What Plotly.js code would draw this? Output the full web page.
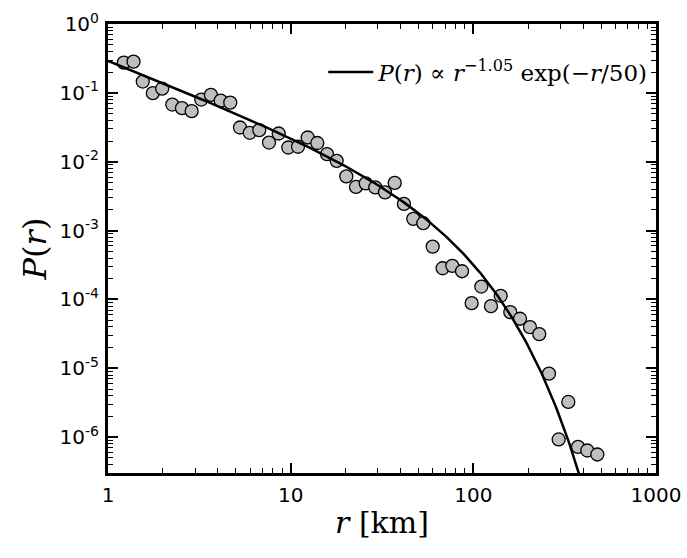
<!DOCTYPE html>
<html>
<head>
<meta charset="utf-8">
<script src="https://cdn.plot.ly/plotly-3.0.1.min.js"></script>
<style>
  html, body { margin: 0; padding: 0; background: #fff; }
  #chart { width: 687px; height: 558px; }
</style>
</head>
<body>
<div id="chart"></div>
<script>
// distances r [km] of the binned points
const rKm = [1.22, 1.38, 1.55, 1.76, 1.98, 2.25, 2.54, 2.87, 3.24, 3.66,
  4.14, 4.67, 5.28, 5.97, 6.73, 7.61, 8.60, 9.70, 10.97, 12.39,
  13.99, 15.81, 17.86, 20.16, 22.78, 25.75, 29.06, 32.83, 37.12, 41.7,
  46.9, 53.2, 59.9, 67.9, 76.7, 86.7, 97.9, 110.6, 124.9, 141.2,
  159.3, 180.1, 204.2, 229.6, 259.5, 293.2, 331.1, 374.1, 420.7, 477.3];

// measured P(r)
const pR = [0.275, 0.284, 0.146, 0.099, 0.115, 0.0677, 0.060, 0.0543, 0.080, 0.0935,
  0.0773, 0.0723, 0.0314, 0.0263, 0.0288, 0.019, 0.0257, 0.0161, 0.0165, 0.0225,
  0.0187, 0.0129, 0.0103, 0.00612, 0.00430, 0.00485, 0.00424, 0.00359, 0.00493, 0.00244,
  0.00148, 0.00128, 0.000586, 0.000284, 0.000308, 0.000257, 8.84e-5, 0.000154, 8.0e-5, 0.000113,
  6.55e-5, 5.25e-5, 3.97e-5, 3.14e-5, 8.37e-6, 9.27e-7, 3.25e-6, 7.23e-7, 6.41e-7, 5.61e-7];

// fitted model from the legend: P(r) = A r^-1.05 exp(-r/50)
const fitA = 0.297, fitExp = -1.05, fitCut = 50;
const fitR = [], fitP = [];
for (let i = 0; i <= 300; i++) {
  const r = Math.pow(10, i * 2.7 / 300);
  fitR.push(r);
  fitP.push(fitA * Math.pow(r, fitExp) * Math.exp(-r / fitCut));
}

const yTickVals = [1, 0.1, 0.01, 1e-3, 1e-4, 1e-5, 1e-6];
const yTickText = ['10<sup>0</sup>', '10<sup>-1</sup>', '10<sup>-2</sup>', '10<sup>-3</sup>',
  '10<sup>-4</sup>', '10<sup>-5</sup>', '10<sup>-6</sup>'];
const xTickVals = [1, 10, 100, 1000];
const xTickText = ['1', '10', '100', '1000'];

const axisCommon = {
  type: 'log',
  showline: true, linecolor: 'black', linewidth: 3, mirror: 'allticks',
  ticks: 'inside', ticklen: 10, tickwidth: 1.5, tickcolor: 'black',
  showgrid: false, zeroline: false,
  minor: { dtick: 'D1', ticks: 'inside', ticklen: 5, tickwidth: 1.2, tickcolor: 'black', showgrid: false },
  tickfont: { family: 'DejaVu Sans, sans-serif', size: 20, color: 'black' },
};

const traces = [
  { x: rKm, y: pR, type: 'scatter', mode: 'markers', showlegend: false,
    marker: { size: 13, color: '#bfbfbf', line: { color: 'black', width: 1.3 } } },
  { x: fitR, y: fitP, type: 'scatter', mode: 'lines',
    name: '<i>P</i>(<i>r</i>) \u221d <i>r</i><sup>\u22121.05</sup> exp(\u2212<i>r</i>/50)',
    line: { color: 'black', width: 2.5 } },
];

const layout = {
  width: 687, height: 558,
  paper_bgcolor: 'white', plot_bgcolor: 'white',
  margin: { l: 108, r: 31, t: 24, b: 85 },
  font: { family: 'DejaVu Serif, serif', color: 'black' },
  xaxis: { ...axisCommon, range: [0, 3], tickvals: xTickVals, ticktext: xTickText, ticklabelstandoff: 2,
    title: { text: '<i>r</i> [km]', font: { family: 'DejaVu Serif, serif', size: 30 }, standoff: 6 } },
  yaxis: { ...axisCommon, range: [-6.52, 0], tickvals: yTickVals, ticktext: yTickText, ticklabelstandoff: 2,
    title: { text: '<i>P</i>(<i>r</i>)', font: { family: 'DejaVu Serif, serif', size: 32 }, standoff: 4 } },
  legend: { x: 0.995, y: 0.893, xanchor: 'right', yanchor: 'middle', bgcolor: 'rgba(0,0,0,0)',
    itemwidth: 45,
    font: { family: 'DejaVu Serif, serif', size: 23, color: 'black' } },
};

Plotly.newPlot('chart', traces, layout, { displayModeBar: false });
</script>
</body>
</html>
